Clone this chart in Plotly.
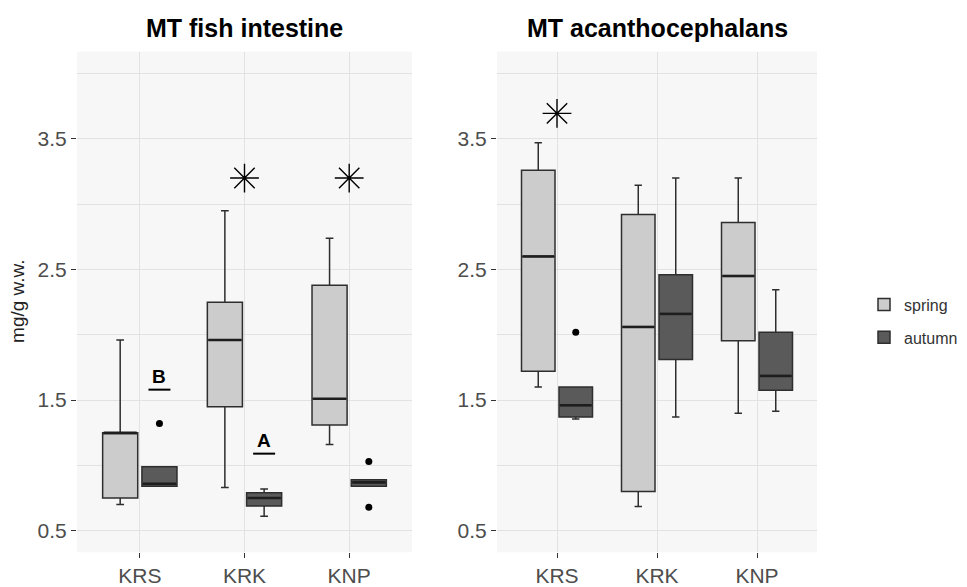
import plotly.graph_objects as go

# ---------------- data ----------------
sites = ["KRS", "KRK", "KNP"]
seasons = ["spring", "autumn"]

# MT fish intestine (left panel)
fish_spring = dict(lowerfence=[0.70, 0.83, 1.16], q1=[0.75, 1.45, 1.31],
                   median=[1.25, 1.96, 1.51], q3=[1.25, 2.25, 2.38],
                   upperfence=[1.96, 2.95, 2.74])
fish_autumn = dict(lowerfence=[0.84, 0.61, 0.84], q1=[0.84, 0.69, 0.84],
                   median=[0.86, 0.75, 0.87], q3=[0.99, 0.79, 0.89],
                   upperfence=[0.99, 0.82, 0.89])
fish_outliers_autumn = {"KRS": [1.32], "KNP": [1.03, 0.68]}
fish_stars = {"KRK": 3.20, "KNP": 3.20}
fish_letters = {"KRS": ("B", 1.58), "KRK": ("A", 1.09)}

# MT acanthocephalans (right panel)
acan_spring = dict(lowerfence=[1.60, 0.685, 1.40], q1=[1.72, 0.80, 1.955],
                   median=[2.60, 2.06, 2.45], q3=[3.26, 2.92, 2.86],
                   upperfence=[3.47, 3.145, 3.20])
acan_autumn = dict(lowerfence=[1.355, 1.37, 1.415], q1=[1.37, 1.81, 1.575],
                   median=[1.46, 2.16, 1.685], q3=[1.60, 2.46, 2.02],
                   upperfence=[1.60, 3.20, 2.345])
acan_outliers_autumn = {"KRS": [2.02]}
acan_stars = {"KRS": 3.695}

y_ticks = [0.5, 1.5, 2.5, 3.5]

# ---------------- style ----------------
FILL = {"spring": "#cccccc", "autumn": "#5a5a5a"}
EDGE = "#2e2e2e"
DODGE = 0.1875
BOXW = 0.335
FONT = "Liberation Sans, Arial, sans-serif"
TICKCOL = "#4d4d4d"
GRID = "#e2e2e2"
OFF = 8                      # page body margin
W, H = 967 - OFF, 587 - OFF  # figure size


def px(xp):  # window x pixel -> paper fraction
    return (xp - OFF) / W


def py(yp):  # window y pixel -> paper fraction
    return 1 - (yp - OFF) / H


fig = go.Figure()

panels = [
    ("x", "y", fish_spring, fish_autumn, fish_outliers_autumn, fish_stars, fish_letters),
    ("x2", "y2", acan_spring, acan_autumn, acan_outliers_autumn, acan_stars, {}),
]

for pi, (xa, ya, sp, au, outl, stars, letters) in enumerate(panels):
    for season, stats, sign in (("spring", sp, -1), ("autumn", au, 1)):
        xs = [i + sign * DODGE for i in range(len(sites))]
        fig.add_trace(go.Box(
            x=xs, q1=stats["q1"], median=stats["median"], q3=stats["q3"],
            lowerfence=stats["lowerfence"], upperfence=stats["upperfence"],
            name=season, legendgroup=season, showlegend=(pi == 0),
            fillcolor=FILL[season], line=dict(color=EDGE, width=1.5),
            width=BOXW, whiskerwidth=0.22, boxpoints=False,
            hoverinfo="skip", xaxis=xa, yaxis=ya,
        ))
        # thicker median lines (ggplot style)
        mx, my = [], []
        for xc, m in zip(xs, stats["median"]):
            mx += [xc - BOXW / 2 + 0.01, xc + BOXW / 2 - 0.01, None]
            my += [m, m, None]
        fig.add_trace(go.Scatter(x=mx, y=my, mode="lines",
                                 line=dict(color="#1e1e1e", width=2.6),
                                 showlegend=False, hoverinfo="skip", xaxis=xa, yaxis=ya))
    # outliers
    ox, oy = [], []
    for site, vals in outl.items():
        for v in vals:
            ox.append(sites.index(site) + DODGE)
            oy.append(v)
    fig.add_trace(go.Scatter(x=ox, y=oy, mode="markers",
                             marker=dict(color="black", size=7),
                             showlegend=False, hoverinfo="skip", xaxis=xa, yaxis=ya))
    # stars
    sx = [sites.index(s) for s in stars]
    sy = list(stars.values())
    fig.add_trace(go.Scatter(x=sx, y=sy, mode="markers",
                             marker=dict(symbol="asterisk-open", size=24, color="black",
                                         line=dict(color="black", width=1.4)),
                             showlegend=False, hoverinfo="skip", xaxis=xa, yaxis=ya))
    # letters with underline
    for site, (letter, yline) in letters.items():
        xc = sites.index(site) + DODGE
        fig.add_trace(go.Scatter(x=[xc - 0.105, xc + 0.105], y=[yline, yline],
                                 mode="lines", line=dict(color="black", width=2),
                                 showlegend=False, hoverinfo="skip", xaxis=xa, yaxis=ya))
        fig.add_annotation(x=xc, y=yline, xref=xa, yref=ya, text="<b>%s</b>" % letter,
                           showarrow=False, yanchor="bottom", xanchor="center", yshift=1,
                           font=dict(family=FONT, size=19, color="black"))

# ---------------- axes ----------------
ydom = [py(557), py(52)]
xdoms = [[px(77), px(412)], [px(497), px(817)]]


def xaxis(dom, anchor):
    return dict(domain=dom, anchor=anchor, range=[-0.6, 2.6],
                tickmode="array", tickvals=list(range(len(sites))), ticktext=sites,
                showgrid=True, gridcolor=GRID, gridwidth=1, zeroline=False,
                ticks="outside", ticklen=5, tickcolor="#333333",
                tickfont=dict(family=FONT, size=21, color=TICKCOL),
                showline=False, fixedrange=True)


def yaxis(anchor):
    return dict(domain=ydom, anchor=anchor, range=[0.335, 4.168],
                tickmode="array", tickvals=y_ticks, ticktext=[f"{v:.1f}" for v in y_ticks],
                showgrid=True, gridcolor=GRID, gridwidth=1, zeroline=False,
                minor=dict(tickmode="array", tickvals=[1.0, 2.0, 3.0, 4.0],
                           showgrid=True, gridcolor=GRID, gridwidth=1, ticks=""),
                ticks="outside", ticklen=5, tickcolor="#333333",
                tickfont=dict(family=FONT, size=21, color=TICKCOL),
                showline=False, fixedrange=True)


fig.update_layout(
    width=W, height=H, autosize=False,
    margin=dict(l=0, r=0, t=0, b=0),
    paper_bgcolor="white", plot_bgcolor="#f7f7f7",
    xaxis=xaxis(xdoms[0], "y"), yaxis=yaxis("x"),
    xaxis2=xaxis(xdoms[1], "y2"), yaxis2=yaxis("x2"),
    boxmode="overlay",
    legend=dict(x=px(864), y=py(290), xanchor="left", yanchor="top",
                font=dict(family=FONT, size=16, color="#333333"),
                bgcolor="rgba(0,0,0,0)", tracegroupgap=9),
    font=dict(family=FONT),
)

# panel titles
fig.add_annotation(x=(xdoms[0][0] + xdoms[0][1]) / 2, y=py(28), xref="paper", yref="paper",
                   xanchor="center", yanchor="middle",
                   text="<b>MT fish intestine</b>", showarrow=False,
                   font=dict(family=FONT, size=25, color="black"))
fig.add_annotation(x=(xdoms[1][0] + xdoms[1][1]) / 2, y=py(28), xref="paper", yref="paper",
                   xanchor="center", yanchor="middle",
                   text="<b>MT acanthocephalans</b>", showarrow=False,
                   font=dict(family=FONT, size=25, color="black"))
# y axis title
fig.add_annotation(x=px(18), y=(ydom[0] + ydom[1]) / 2, xref="paper", yref="paper",
                   xanchor="center", yanchor="middle",
                   text="mg/g w.w.", textangle=-90, showarrow=False,
                   font=dict(family=FONT, size=19, color="#222222"))

fig.write_html("out.html")
